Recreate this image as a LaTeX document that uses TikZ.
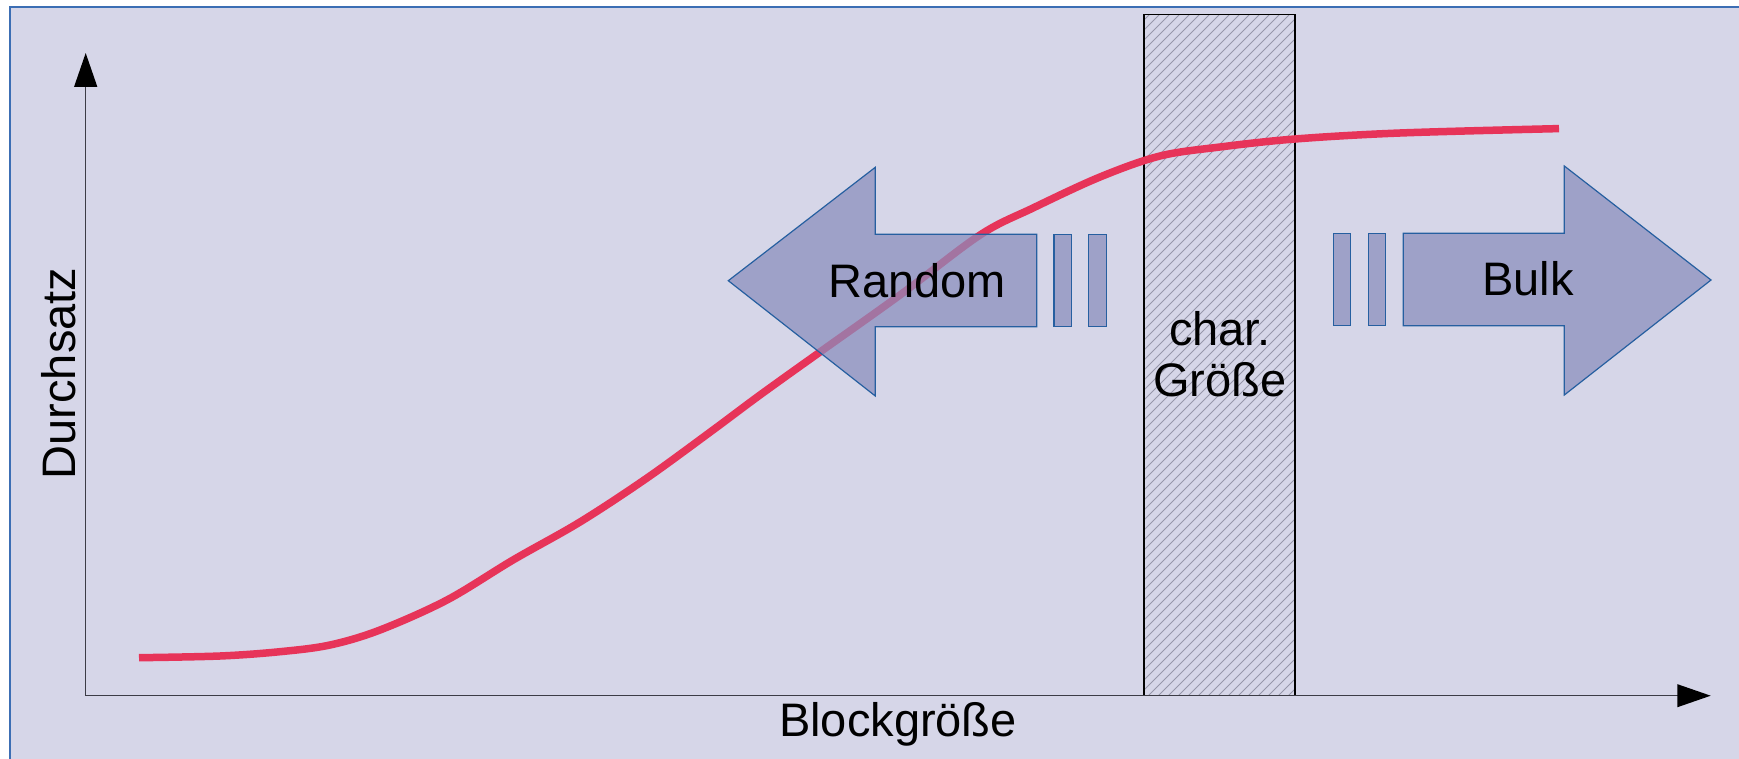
\documentclass[tikz,border=0pt]{standalone}
\usepackage{fontspec}
\setmainfont{Liberation Sans}
\usetikzlibrary{arrows.meta}

\definecolor{panelbg}{RGB}{214,214,232}
\definecolor{panelline}{RGB}{60,110,180}
\definecolor{curvered}{RGB}{231,52,89}
\definecolor{arrowfill}{RGB}{137,141,189}
\definecolor{arrowline}{RGB}{38,95,160}
\definecolor{hatchgray}{RGB}{150,150,170}
\definecolor{axisgray}{RGB}{60,60,70}

\tikzset{
  lbl/.style={font=\fontsize{47}{51}\selectfont, inner sep=0pt, text=black},
  axisline/.style={draw=axisgray, line width=1.5pt},
  blockarrow/.style={fill=arrowfill, fill opacity=0.72, draw=arrowline, draw opacity=1, line width=1.2pt, line join=miter},
  hatchline/.style={draw=hatchgray, line width=0.9pt},
  throughput/.style={draw=curvered, line width=7.5pt}
}

\begin{document}
\begin{tikzpicture}[x=1pt, y=-1pt]
  \useasboundingbox (0,0) rectangle (1739,759);
  \fill[white] (0,0) rectangle (1739,759);

  % panel background with blue rim on top and left
  \fill[panelbg] (10,7) rectangle (1760,780);
  \draw[panelline, line width=1.6pt] (10,780) -- (10,7) -- (1760,7);

  % characteristic size band (hatched)
  \begin{scope}
    \clip (1144,14.7) rectangle (1295,695.7);
    \foreach \o in {-700,-690,...,170}
      \draw[hatchline] (1144+\o,700) -- ++(720,-720);
  \end{scope}
  \draw[black, line width=1.5pt] (1144,695.7) -- (1144,14.7) -- (1295,14.7) -- (1295,695.7);

  % axes
  \coordinate (origin) at (85.7,695.7);
  \coordinate (ytip) at (85.7,53);
  \coordinate (xtip) at (1710.7,695.7);
  \draw[axisline, -{Triangle[length=34pt,width=23pt,color=black]}] (origin) -- (ytip);
  \draw[axisline, -{Triangle[length=33.4pt,width=22.7pt,color=black]}] (origin) -- (xtip);

  % throughput curve
  \draw[throughput] plot[smooth, tension=0.55] coordinates {
    (139,657.7) (220,656) (280,651.7) (330,645) (380,630) (447,600)
    (513,560) (580,522) (647,478) (713,430) (760,395) (820,352)
    (900,295) (980,235) (1033,208) (1100,177) (1160,156) (1220,147)
    (1295,139) (1400,133) (1559,128.6)};

  % left block arrow (small block sizes)
  \draw[blockarrow] (1036.7,234.3) -- (875.3,234.3) -- (875.3,167.3) -- (728.3,280.7)
    -- (875.3,396) -- (875.3,326.7) -- (1036.7,326.7) -- cycle;
  \draw[blockarrow] (1054,234.3) rectangle (1071.3,326.7);
  \draw[blockarrow] (1088.7,234.3) rectangle (1106.3,326.7);

  % right block arrow (large block sizes)
  \draw[blockarrow] (1333.3,233.3) rectangle (1350.7,325.7);
  \draw[blockarrow] (1368.3,233.3) rectangle (1385.7,325.7);
  \draw[blockarrow] (1403.3,233.3) -- (1564.3,233.3) -- (1564.3,166) -- (1711,280)
    -- (1564.3,395) -- (1564.3,325.7) -- (1403.3,325.7) -- cycle;

  % labels
  \node[lbl, anchor=base] (random) at (917,297.3) {Random};
  \node[lbl, anchor=base] (bulk) at (1528,295.7) {Bulk};
  \node[lbl, align=center] (charsize) at (1220,354) {char.\\Größe};
  \node[lbl, anchor=base] (xlabel) at (898,736.7) {Blockgröße};
  \node[lbl, anchor=base, rotate=90] (ylabel) at (75,373.5) {Durchsatz};
\end{tikzpicture}
\end{document}
